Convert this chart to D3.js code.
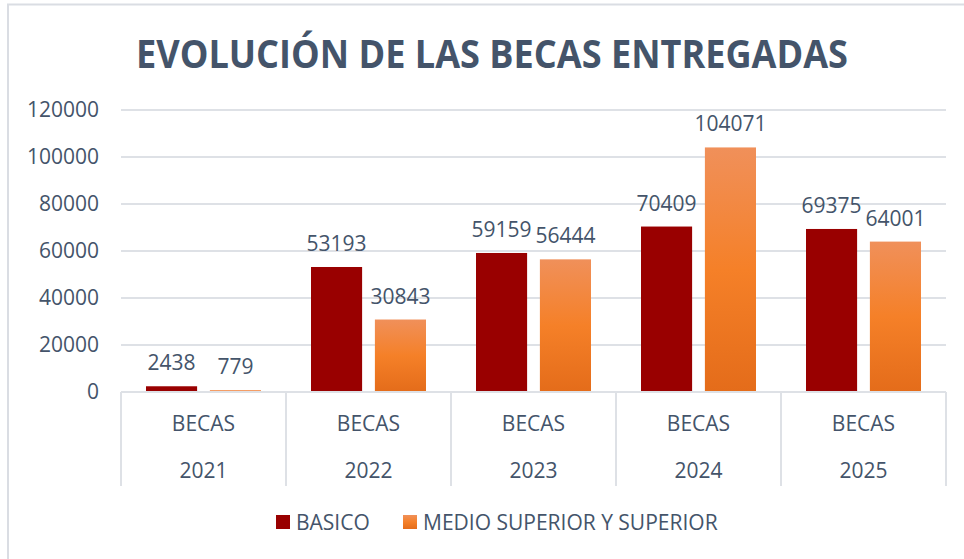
<!DOCTYPE html>
<html lang="es">
<head>
<meta charset="UTF-8">
<title>Evolución de las becas entregadas</title>
<script src="https://cdn.jsdelivr.net/npm/d3@7"></script>
<style>
    body { margin: 0; background: #fff; }
    #chart { width: 964px; height: 559px; }
    text { font-family: "Open Sans", "Noto Sans", sans-serif; fill: #44546a; }
</style>
</head>
<body>
<div id="chart"></div>
<script>
    // datos
    const years = ["2021", "2022", "2023", "2024", "2025"];
    const seriesNames = ["BASICO", "MEDIO SUPERIOR Y SUPERIOR"];
    const basico = [2438, 53193, 59159, 70409, 69375];
    const medio = [779, 30843, 56444, 104071, 64001];
    const yTicks = [0, 20000, 40000, 60000, 80000, 100000, 120000];

    let svg = d3.select("#chart").append("svg")
        .attr("width", 964)
        .attr("height", 559);

    // degradado de las barras naranjas
    let grad = svg.append("defs").append("linearGradient")
        .attr("id", "orange")
        .attr("x1", 0).attr("y1", 0).attr("x2", 0).attr("y2", 1);
    grad.append("stop").attr("offset", "0%").attr("stop-color", "#f0905a");
    grad.append("stop").attr("offset", "50%").attr("stop-color", "#f58028");
    grad.append("stop").attr("offset", "100%").attr("stop-color", "#e46c1a");

    // borde del área del gráfico
    svg.append("path")
        .attr("d", "M8,559V4.5H964")
        .attr("fill", "none")
        .attr("stroke", "#dadde3")
        .attr("stroke-width", 2);

    let padding = { top: 110, left: 121, right: 18, bottom: 167 };
    let width = 964 - padding.left - padding.right;
    let height = 559 - padding.top - padding.bottom;

    let g = svg.append("g")
        .attr("transform", "translate(" + padding.left + "," + padding.top + ")");

    let x = d3.scaleBand().domain(years).range([0, width]);
    let x1 = d3.scaleBand().domain(seriesNames).range([25, x.bandwidth() - 25]).paddingInner(0.2);
    let y = d3.scaleLinear().domain([0, 120000]).range([height, 0]);

    // líneas de cuadrícula
    g.append("g").selectAll("line").data(yTicks.slice(1)).join("line")
        .attr("x1", 0).attr("x2", width)
        .attr("y1", d => y(d)).attr("y2", d => y(d))
        .attr("stroke", "#dee1e6").attr("stroke-width", 2);

    // eje y
    let yAxis = d3.axisLeft(y).tickValues(yTicks).tickSize(0).tickPadding(22).tickFormat(d3.format("d"));
    g.append("g").attr("class", "yaxis").call(yAxis)
        .call(s => s.select(".domain").remove())
        .selectAll("text").attr("font-size", 21).attr("fill", "#44546a");

    // barras
    let rows = years.map((yr, i) => ({ year: yr, vals: [basico[i], medio[i]] }));
    let grp = g.append("g").selectAll("g").data(rows).join("g")
        .attr("transform", d => "translate(" + x(d.year) + ",0)");

    grp.selectAll("rect").data(d => d.vals.map((v, j) => ({ key: seriesNames[j], v: v }))).join("rect")
        .attr("x", d => x1(d.key))
        .attr("width", x1.bandwidth())
        .attr("y", d => y(d.v))
        .attr("height", d => y(0) - y(d.v))
        .attr("fill", d => d.key === seriesNames[0] ? "#990000" : "url(#orange)");

    grp.selectAll("text.lbl").data(d => d.vals.map((v, j) => ({ key: seriesNames[j], v: v }))).join("text")
        .attr("class", "lbl")
        .attr("x", d => x1(d.key) + x1.bandwidth() / 2)
        .attr("y", d => y(d.v) - 16)
        .attr("text-anchor", "middle")
        .attr("font-size", 21)
        .text(d => d.v);

    // eje x: línea base y separadores
    let axisG = g.append("g").attr("transform", "translate(0," + height + ")");
    axisG.append("line").attr("x1", 0).attr("x2", width)
        .attr("stroke", "#dee1e6").attr("stroke-width", 2);
    axisG.selectAll("line.sep").data(years.concat(["end"])).join("line")
        .attr("class", "sep")
        .attr("x1", (d, i) => i * x.bandwidth()).attr("x2", (d, i) => i * x.bandwidth())
        .attr("y1", 0).attr("y2", 94)
        .attr("stroke", "#dee1e6").attr("stroke-width", 2);
    axisG.selectAll("text.becas").data(years).join("text")
        .attr("class", "becas")
        .attr("x", d => x(d) + x.bandwidth() / 2)
        .attr("y", 39)
        .attr("text-anchor", "middle")
        .attr("font-size", 21)
        .text("BECAS");
    axisG.selectAll("text.yr").data(years).join("text")
        .attr("class", "yr")
        .attr("x", d => x(d) + x.bandwidth() / 2)
        .attr("y", 86)
        .attr("text-anchor", "middle")
        .attr("font-size", 21)
        .text(d => d);

    // título
    svg.append("text")
        .attr("x", 492).attr("y", 68)
        .attr("text-anchor", "middle")
        .attr("font-size", 40)
        .attr("font-weight", "bold")
        .attr("textLength", 712)
        .attr("lengthAdjust", "spacingAndGlyphs")
        .text("EVOLUCIÓN DE LAS BECAS ENTREGADAS");

    // leyenda
    let legend = [{ name: seriesNames[0], x: 276, fill: "#990000" }, { name: seriesNames[1], x: 403, fill: "url(#orange)" }];
    let lg = svg.append("g").selectAll("g").data(legend).join("g")
        .attr("transform", d => "translate(" + d.x + ",515)");
    lg.append("rect").attr("width", 14).attr("height", 14).attr("fill", d => d.fill);
    lg.append("text").attr("x", 20).attr("y", 14.5).attr("font-size", 21).text(d => d.name);
</script>
</body>
</html>
